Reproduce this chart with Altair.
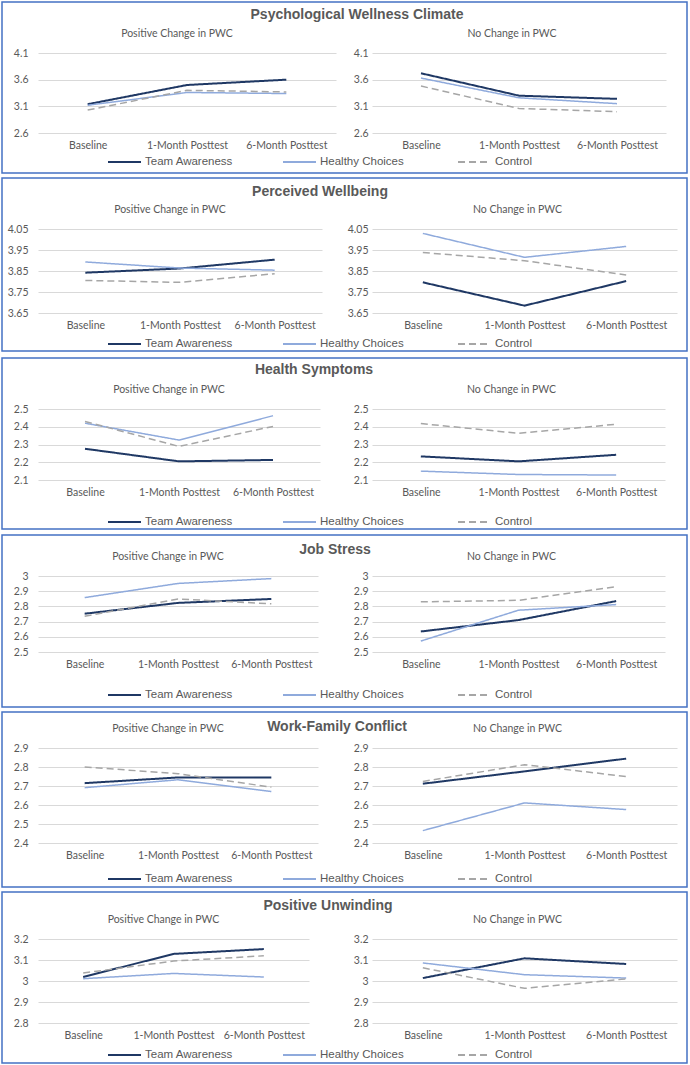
import altair as alt
import pandas as pd

# ---------------- data ----------------
timepoints = ["Baseline", "1-Month Posttest", "6-Month Posttest"]
groups = ["Team Awareness", "Healthy Choices", "Control"]
conditions = ["Positive Change in PWC", "No Change in PWC"]
outcomes = [
    "Psychological Wellness Climate",
    "Perceived Wellbeing",
    "Health Symptoms",
    "Job Stress",
    "Work-Family Conflict",
    "Positive Unwinding",
]

# each array: [Team Awareness, Healthy Choices, Control] x [Baseline, 1-Month, 6-Month]
psych_positive = [[3.14, 3.50, 3.60], [3.12, 3.36, 3.34], [3.03, 3.40, 3.37]]
psych_nochange = [[3.72, 3.30, 3.24], [3.63, 3.26, 3.15], [3.48, 3.06, 3.00]]
wellbeing_positive = [[3.842, 3.862, 3.904], [3.893, 3.864, 3.854], [3.805, 3.796, 3.837]]
wellbeing_nochange = [[3.796, 3.685, 3.802], [4.029, 3.915, 3.967], [3.938, 3.899, 3.831]]
symptoms_positive = [[2.276, 2.205, 2.213], [2.420, 2.325, 2.462], [2.430, 2.289, 2.402]]
symptoms_nochange = [[2.233, 2.205, 2.242], [2.150, 2.131, 2.128], [2.418, 2.363, 2.414]]
stress_positive = [[2.752, 2.823, 2.849], [2.858, 2.951, 2.983], [2.735, 2.849, 2.817]]
stress_nochange = [[2.635, 2.710, 2.835], [2.572, 2.775, 2.812], [2.830, 2.840, 2.930]]
wfc_positive = [[2.715, 2.745, 2.745], [2.691, 2.733, 2.671], [2.800, 2.765, 2.694]]
wfc_nochange = [[2.712, 2.777, 2.844], [2.465, 2.611, 2.576], [2.724, 2.812, 2.750]]
unwind_positive = [[3.019, 3.129, 3.152], [3.011, 3.036, 3.019], [3.038, 3.095, 3.120]]
unwind_nochange = [[3.014, 3.108, 3.081], [3.086, 3.030, 3.014], [3.063, 2.965, 3.010]]

panel_series = [
    (psych_positive, psych_nochange),
    (wellbeing_positive, wellbeing_nochange),
    (symptoms_positive, symptoms_nochange),
    (stress_positive, stress_nochange),
    (wfc_positive, wfc_nochange),
    (unwind_positive, unwind_nochange),
]

y_ticks = [
    [2.6, 3.1, 3.6, 4.1],
    [3.65, 3.75, 3.85, 3.95, 4.05],
    [2.1, 2.2, 2.3, 2.4, 2.5],
    [2.5, 2.6, 2.7, 2.8, 2.9, 3.0],
    [2.4, 2.5, 2.6, 2.7, 2.8, 2.9],
    [2.8, 2.9, 3.0, 3.1, 3.2],
]

# ---------------- layout / style ----------------
COLORS = ["#1F3864", "#8FAADC", "#A6A6A6"]
DASHES = [[1, 0], [1, 0], [7, 4]]
BORDER = "#4472C4"
TEXT = "#595959"

left_w = [298, 284, 282, 280, 280, 271]
right_w = [294, 305, 293, 293, 305, 305]
heights = [80, 84, 71, 76, 95, 84]
border_top = [-51, -51, -51, -41, -36, -47]
border_bottom = [120, 122, 120, 131, 139, 124]
title_x = [319, 282, 276, 297, 299, 290]
title_y = [-38, -37, -39, -26, -21, -33]
legend_mid = [108, 114, 112, 118, 130, 115]
SUB_Y = -19


def make_df(series):
    rows = []
    for g, vals in zip(groups, series):
        for t, v in zip(timepoints, vals):
            rows.append({"group": g, "time": t, "value": v})
    return pd.DataFrame(rows)


def lines(df, ticks, legend, ypad):
    return alt.Chart(df).mark_line(strokeCap="butt").encode(
        x=alt.X("time:N", sort=timepoints, title=None,
                axis=alt.Axis(labelAngle=0, ticks=False, domain=False, grid=False, labelPadding=7)),
        y=alt.Y("value:Q", title=None,
                scale=alt.Scale(domain=[ticks[0], ticks[-1]], nice=False, zero=False),
                axis=alt.Axis(values=ticks, format=".3~g", ticks=False, domain=False, grid=True,
                              labelPadding=ypad)),
        color=alt.Color("group:N", sort=groups, title=None,
                        scale=alt.Scale(domain=groups, range=COLORS), legend=legend),
        strokeDash=alt.StrokeDash("group:N", sort=groups, title=None,
                                  scale=alt.Scale(domain=groups, range=DASHES), legend=legend),
        strokeWidth=alt.condition(alt.datum.group == "Team Awareness", alt.value(2.0), alt.value(1.5)),
    )


def label(text, x, y, size, weight, font):
    return alt.Chart(pd.DataFrame({"t": [text]})).mark_text(
        font=font, fontSize=size, fontWeight=weight, color=TEXT, align="center", baseline="middle"
    ).encode(text="t:N", x=alt.value(x), y=alt.value(y))


cells = []
for i, name in enumerate(outcomes):
    pos, noc = panel_series[i]
    ticks = y_ticks[i]
    h = heights[i]
    leg = alt.Legend(orient="none", legendX=69, legendY=legend_mid[i] - 16.5, direction="horizontal",
                     symbolType="stroke", symbolSize=1089, symbolStrokeWidth=2,
                     labelFont="Liberation Sans", labelFontSize=11.5, labelColor=TEXT,
                     columnPadding=46, gridAlign="all", padding=0, labelOffset=3)
    border = alt.Chart(pd.DataFrame({"t": [name]})).mark_rect(
        fillOpacity=0, stroke=BORDER, strokeWidth=1.5).encode(
        x=alt.value(-36), x2=alt.value(649), y=alt.value(border_top[i]), y2=alt.value(border_bottom[i])
    )
    title = label(name, title_x[i], title_y[i], 14, "bold", "Liberation Sans")
    sub_l = label(conditions[0], (left_w[i] - 20) / 2, SUB_Y, 10.5, "normal", "Lato")
    sub_r = label(conditions[1], (right_w[i] - 14) / 2, SUB_Y, 10.5, "normal", "Lato")
    left = alt.layer(border, title, sub_l, lines(make_df(pos), ticks, leg, 10)).properties(
        width=left_w[i], height=h)
    right = alt.layer(sub_r, lines(make_df(noc), ticks, None, 4)).properties(
        width=right_w[i], height=h)
    cells += [left, right]

chart = alt.concat(*cells, columns=2, spacing={"row": 96, "column": 36}, bounds="flush").resolve_scale(
    color="independent", strokeDash="independent"
).properties(
    padding={"left": 1, "top": 1, "right": 1, "bottom": 1}, background="white"
).configure_view(strokeWidth=0).configure_axis(
    labelFont="Lato", labelFontSize=10.5, labelColor=TEXT, gridColor="#D9D9D9", gridWidth=1
)

chart.save("out.html", embed_options={"renderer": "svg", "actions": False})
